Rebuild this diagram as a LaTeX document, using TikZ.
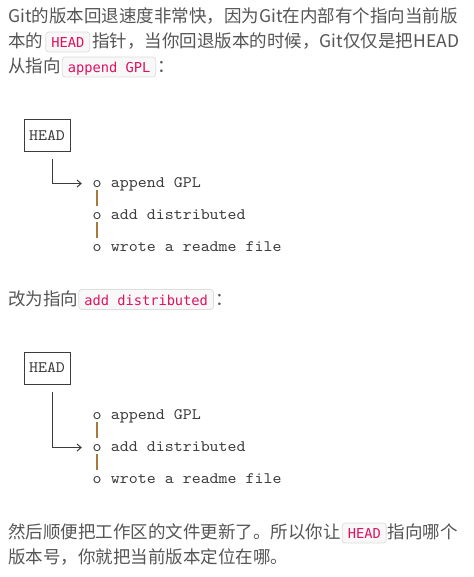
\documentclass[tikz,border=0pt]{standalone}
\usepackage{fontspec}
\setmainfont{Noto Sans CJK SC}
\newfontfamily\diagfont{lmmono10-regular.otf}[FakeStretch=1.07]
\newfontfamily\codefont{DejaVu Sans Mono}
\usepackage{tikz}
\usetikzlibrary{positioning,arrows.meta}
\definecolor{textgray}{HTML}{555555}
\definecolor{linegray}{HTML}{3C3C3C}
\definecolor{bargold}{HTML}{A8783C}
\definecolor{codered}{HTML}{E0115F}
\definecolor{codebg}{HTML}{F8F8F8}
\definecolor{codeline}{HTML}{DDDDDD}
\tikzset{
  para/.style={inner sep=0pt,anchor=base west,text=textgray,font=\fontsize{17.5}{20}\selectfont},
  code/.style={draw=codeline,fill=codebg,rounded corners=3pt,text=codered,line width=0.75pt,
    font=\codefont\fontsize{13.7}{16}\selectfont,inner xsep=5.5pt,inner ysep=0pt,
    text height=15.5pt,text depth=4.5pt},
  headbox/.style={draw=linegray,line width=1pt,text=linegray,inner sep=0pt,
    font=\diagfont\fontsize{16}{18}\selectfont,minimum width=46pt,minimum height=32pt},
  dot/.style={inner sep=0pt,anchor=base,text=linegray,font=\diagfont\fontsize{16}{18}\selectfont},
  msg/.style={inner sep=0pt,text=linegray,font=\diagfont\fontsize{16}{18}\selectfont},
  pointer/.style={draw=linegray,line width=1pt,-{Straight Barb[length=4pt,width=7pt]},shorten >=10.5pt},
  bar/.style={draw=bargold,line width=1.2pt,shorten <=2.5pt,shorten >=5.5pt}
}
\begin{document}
\begin{tikzpicture}[x=1pt,y=1pt]
  \useasboundingbox[fill=white] (0,0) rectangle (473,-577);
  % first paragraph
  \node[para] (t1) at (8,-22.5) {Git的版本回退速度非常快，因为Git在内部有个指向当前版};
  \node[para] (t2) at (8,-47.5) {本的};
  \node[code] (k1) [base right=2pt of t2] {HEAD};
  \node[para] (t2b) [base right=2pt of k1] {指针，当你回退版本的时候，Git仅仅是把HEAD};
  \node[para] (t3) at (8,-72.5) {从指向};
  \node[code] (k2) [base right=1pt of t3] {append GPL};
  \node[para] (t3b) [base right=1pt of k2] {：};

  % HEAD -> append GPL
  \node[headbox] (head1) at (47,-136) {HEAD};
  \node[dot] (a1) at (97,-187) {o};
  \node[dot] (a2) at (97,-219) {o};
  \node[dot] (a3) at (97,-251) {o};
  \node[msg] (m1) [base right=9pt of a1] {append GPL};
  \node[msg] (m2) [base right=9pt of a2] {add distributed};
  \node[msg] (m3) [base right=9pt of a3] {wrote a readme file};
  \path[pointer] ([xshift=5pt,yshift=-7pt]head1.south) |- (a1);
  \path[bar] (a1) -- (a2);
  \path[bar] (a2) -- (a3);

  \node[para] (t4) at (8,-305) {改为指向};
  \node[code] (k3) [base right=0pt of t4] {add distributed};
  \node[para] (t4b) [base right=1pt of k3] {：};

  % HEAD -> add distributed
  \node[headbox] (head2) at (47,-368) {HEAD};
  \node[dot] (b1) at (97,-419) {o};
  \node[dot] (b2) at (97,-451) {o};
  \node[dot] (b3) at (97,-483) {o};
  \node[msg] (n1) [base right=9pt of b1] {append GPL};
  \node[msg] (n2) [base right=9pt of b2] {add distributed};
  \node[msg] (n3) [base right=9pt of b3] {wrote a readme file};
  \path[pointer] ([xshift=5pt,yshift=-7pt]head2.south) |- (b2);
  \path[bar] (b1) -- (b2);
  \path[bar] (b2) -- (b3);

  % closing paragraph
  \node[para] (t5) at (8,-538.5) {然后顺便把工作区的文件更新了。所以你让};
  \node[code] (k4) [base right=1pt of t5] {HEAD};
  \node[para] (t5b) [base right=1pt of k4] {指向哪个};
  \node[para] (t6) at (8,-563.5) {版本号，你就把当前版本定位在哪。};
\end{tikzpicture}
\end{document}
